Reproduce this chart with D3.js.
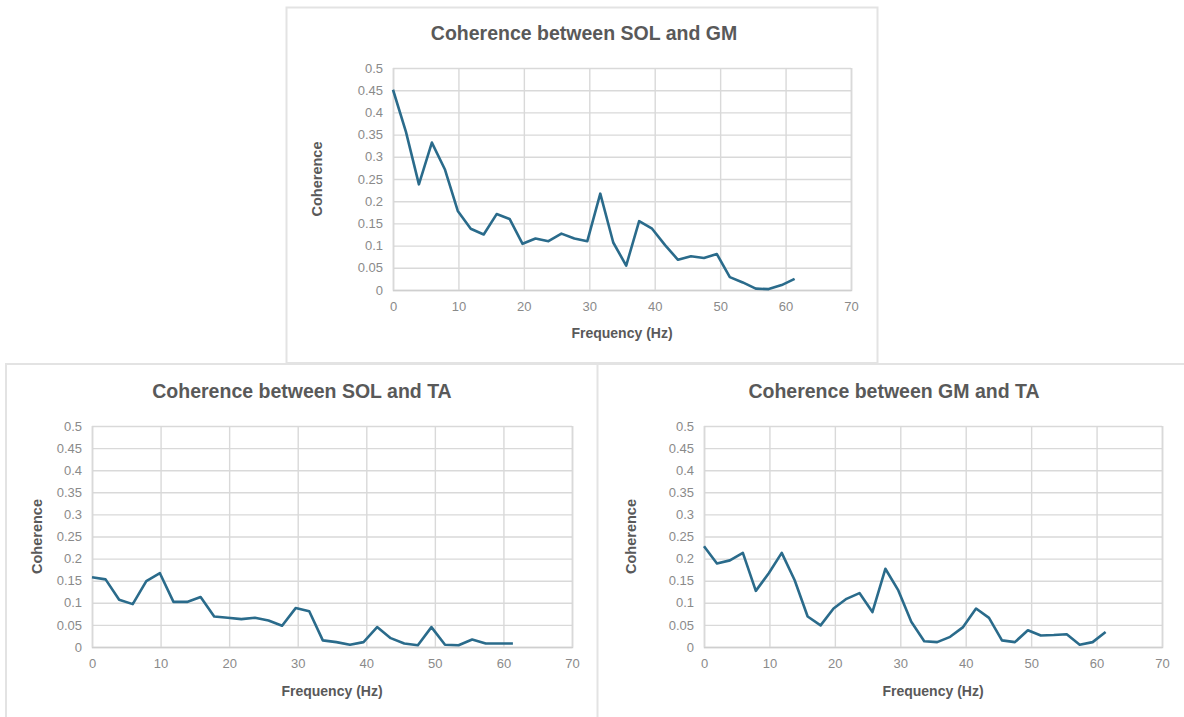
<!DOCTYPE html>
<html>
<head>
<meta charset="utf-8">
<script src="https://cdn.jsdelivr.net/npm/d3@7"></script>
<style>
  html, body { margin: 0; padding: 0; background: #fff; }
  svg { display: block; }
</style>
</head>
<body>
<svg id="chart" width="1184" height="717"></svg>
<script>
// ---- data ----
const frequencies = [0, 1.98, 3.96, 5.94, 7.92, 9.9, 11.88, 13.86, 15.84, 17.82, 19.8, 21.78, 23.76, 25.74, 27.72, 29.7,
  31.68, 33.66, 35.64, 37.62, 39.6, 41.58, 43.56, 45.54, 47.52, 49.5, 51.48, 53.46, 55.44, 57.42, 59.4, 61.38];
const solGm = [0.451, 0.356, 0.238, 0.332, 0.272, 0.178, 0.138, 0.125, 0.171, 0.160, 0.104, 0.116, 0.110, 0.127, 0.116, 0.110,
  0.217, 0.107, 0.055, 0.155, 0.138, 0.101, 0.068, 0.076, 0.072, 0.081, 0.029, 0.017, 0.003, 0.002, 0.011, 0.025];
const solTa = [0.158, 0.153, 0.107, 0.097, 0.149, 0.167, 0.102, 0.102, 0.113, 0.069, 0.066, 0.063, 0.066, 0.060, 0.048, 0.088,
  0.081, 0.015, 0.011, 0.005, 0.011, 0.045, 0.020, 0.008, 0.004, 0.045, 0.005, 0.004, 0.017, 0.008, 0.008, 0.008];
const gmTa = [0.228, 0.189, 0.196, 0.213, 0.127, 0.167, 0.213, 0.151, 0.069, 0.049, 0.087, 0.109, 0.122, 0.079, 0.177, 0.128,
  0.057, 0.013, 0.011, 0.023, 0.045, 0.087, 0.066, 0.015, 0.011, 0.038, 0.026, 0.027, 0.029, 0.005, 0.011, 0.034];
const xTicks = [0, 10, 20, 30, 40, 50, 60, 70];
const yTicks = [0, 0.05, 0.1, 0.15, 0.2, 0.25, 0.3, 0.35, 0.4, 0.45, 0.5];
const titles = ["Coherence between SOL and GM", "Coherence between SOL and TA", "Coherence between GM and TA"];
const xTitle = "Frequency (Hz)";
const yTitle = "Coherence";

// ---- layout ----
const svg = d3.select("#chart");
const FONT = "'Liberation Sans', Arial, sans-serif";
const lineColor = "#2a6b8b";
const frameColor = "#e3e3e3";

svg.append("rect").attr("x", 286.5).attr("y", 7.5).attr("width", 591).attr("height", 355.5)
  .attr("fill", "none").attr("stroke", frameColor).attr("stroke-width", 2);
svg.append("line").attr("x1", 5).attr("x2", 1184).attr("y1", 364).attr("y2", 364)
  .attr("stroke", frameColor).attr("stroke-width", 2);
svg.append("line").attr("x1", 6).attr("x2", 6).attr("y1", 364).attr("y2", 717)
  .attr("stroke", frameColor).attr("stroke-width", 2);
svg.append("line").attr("x1", 597.5).attr("x2", 597.5).attr("y1", 363).attr("y2", 717)
  .attr("stroke", frameColor).attr("stroke-width", 2);

const panels = [
  { values: solGm, title: titles[0], x0: 393, x1: 851, y0: 290, y1: 68, titleX: 584, titleY: 40, yLabX: 322, xLabY: 313, xTitleY: 338 },
  { values: solTa, title: titles[1], x0: 92, x1: 572, y0: 647, y1: 426, titleX: 302, titleY: 398, yLabX: 42, xLabY: 671, xTitleY: 696 },
  { values: gmTa, title: titles[2], x0: 704, x1: 1162, y0: 647, y1: 426, titleX: 894, titleY: 398, yLabX: 636, xLabY: 671, xTitleY: 696 }
];

panels.forEach(p => {
  const x = d3.scaleLinear().domain([0, 70]).range([p.x0, p.x1]);
  const y = d3.scaleLinear().domain([0, 0.5]).range([p.y0, p.y1]);
  const g = svg.append("g");

  const yAxis = d3.axisLeft(y).tickValues(yTicks).tickFormat(d => d3.format("~g")(d))
    .tickSize(-(p.x1 - p.x0)).tickPadding(10);
  const ya = g.append("g").attr("transform", `translate(${p.x0},0)`).call(yAxis);
  ya.select(".domain").remove();
  ya.selectAll("line").attr("stroke", "#d9d9d9").attr("stroke-width", 1.4);
  ya.selectAll("text").attr("fill", "#8a8a8a").style("font", `13px ${FONT}`);

  const xAxis = d3.axisBottom(x).tickValues(xTicks).tickFormat(d3.format("d"))
    .tickSize(-(p.y0 - p.y1)).tickPadding(12);
  const xa = g.append("g").attr("transform", `translate(0,${p.y0})`).call(xAxis);
  xa.select(".domain").attr("stroke", "#cfcfcf").attr("stroke-width", 1.5);
  xa.selectAll("line").attr("stroke", "#d9d9d9").attr("stroke-width", 1.4);
  xa.selectAll("text").attr("fill", "#8a8a8a").style("font", `13px ${FONT}`);

  const line = d3.line().x((d, i) => x(frequencies[i])).y(d => y(d));
  g.append("path").datum(p.values).attr("d", line)
    .attr("fill", "none").attr("stroke", lineColor).attr("stroke-width", 2.6)
    .attr("stroke-linejoin", "round");

  g.append("text").attr("x", p.titleX).attr("y", p.titleY).attr("text-anchor", "middle")
    .attr("fill", "#595959").style("font", `bold 19.5px ${FONT}`).text(p.title);
  g.append("text").attr("x", (p.x0 + p.x1) / 2).attr("y", p.xTitleY).attr("text-anchor", "middle")
    .attr("fill", "#595959").style("font", `bold 14px ${FONT}`).text(xTitle);
  g.append("text").attr("transform", `translate(${p.yLabX},${(p.y0 + p.y1) / 2}) rotate(-90)`)
    .attr("text-anchor", "middle").attr("fill", "#595959")
    .style("font", `bold 14.5px ${FONT}`).text(yTitle);
});
</script>
</body>
</html>
